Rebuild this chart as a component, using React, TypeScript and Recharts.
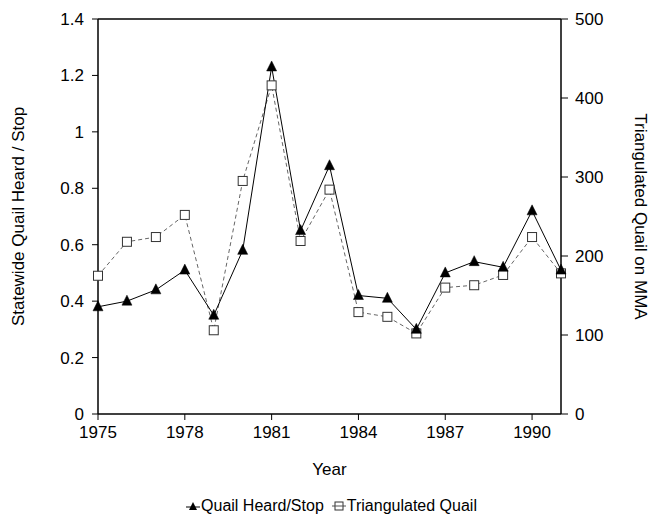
import React from "react";
import { LineChart, Line, XAxis, YAxis, Legend, ReferenceLine, Label } from "recharts";

const years = [1975, 1976, 1977, 1978, 1979, 1980, 1981, 1982, 1983, 1984, 1985, 1986, 1987, 1988, 1989, 1990, 1991];
const heardPerStop = [0.38, 0.4, 0.44, 0.51, 0.35, 0.58, 1.23, 0.65, 0.88, 0.42, 0.41, 0.3, 0.5, 0.54, 0.52, 0.72, 0.51];
const triangulated = [175, 218, 224, 252, 106, 295, 416, 219, 284, 129, 123, 102, 160, 163, 176, 224, 178];

const xTicks = [1975, 1978, 1981, 1984, 1987, 1990];
const leftTicks = [0, 0.2, 0.4, 0.6, 0.8, 1, 1.2, 1.4];
const rightTicks = [0, 100, 200, 300, 400, 500];

const seriesNames = { heard: "Quail Heard/Stop", tri: "Triangulated Quail" };
const axisTitles = { x: "Year", left: "Statewide Quail Heard / Stop", right: "Triangulated Quail on MMA" };

const data = years.map((y, i) => ({ year: y, heard: heardPerStop[i], tri: triangulated[i] }));

const FONT = "'Liberation Sans', Arial, sans-serif";
const tickStyle = { fontSize: 17, fill: "#000", fontFamily: FONT };

const TriangleDot = (props: any) => {
  const { cx, cy } = props;
  if (cx == null || cy == null) return null;
  return <polygon points={`${cx},${cy - 6} ${cx - 5},${cy + 4} ${cx + 5},${cy + 4}`} fill="#000" stroke="#000" strokeWidth={0.5} />;
};

const SquareDot = (props: any) => {
  const { cx, cy } = props;
  if (cx == null || cy == null) return null;
  return <rect x={cx - 4.5} y={cy - 4.5} width={9} height={9} fill="#fff" stroke="#333" strokeWidth={1} />;
};

const LegendContent = () => (
  <div style={{ display: "flex", justifyContent: "center", alignItems: "center", fontFamily: FONT, fontSize: 16, color: "#000" }}>
    <svg width={14} height={12} style={{ marginRight: 1 }}>
      <line x1={0} y1={7} x2={14} y2={7} stroke="#000" strokeWidth={1} />
      <polygon points="7,2 3,10 11,10" fill="#000" />
    </svg>
    <span style={{ marginRight: 8 }}>{seriesNames.heard}</span>
    <svg width={14} height={12} style={{ marginRight: 1 }}>
      <line x1={0} y1={6} x2={14} y2={6} stroke="#555" strokeWidth={1} />
      <rect x={3} y={2} width={8} height={8} fill="#fff" stroke="#333" strokeWidth={1} />
      <line x1={3} y1={6} x2={11} y2={6} stroke="#555" strokeWidth={1} />
    </svg>
    <span>{seriesNames.tri}</span>
  </div>
);

const LeftTitle = (props: any) => {
  const vb = props.viewBox || {};
  const cx = 18;
  const cy = vb.y + vb.height / 2;
  return (
    <text x={cx} y={cy} transform={`rotate(-90 ${cx} ${cy})`} textAnchor="middle" dominantBaseline="central" fontSize={17} fontFamily={FONT} fill="#000">
      {axisTitles.left}
    </text>
  );
};

const RightTitle = (props: any) => {
  const vb = props.viewBox || {};
  const cx = 640;
  const cy = vb.y + vb.height / 2;
  return (
    <text x={cx} y={cy} transform={`rotate(90 ${cx} ${cy})`} textAnchor="middle" dominantBaseline="central" fontSize={17} fontFamily={FONT} fill="#000">
      {axisTitles.right}
    </text>
  );
};

const XTitle = (props: any) => {
  const vb = props.viewBox || {};
  const cx = vb.x + vb.width / 2;
  const cy = vb.y + 55;
  return (
    <text x={cx} y={cy} textAnchor="middle" dominantBaseline="central" fontSize={17} fontFamily={FONT} fill="#000">
      {axisTitles.x}
    </text>
  );
};

export default function App() {
  return (
    <div style={{ position: "absolute", left: 0, top: 0, width: 663, height: 516, background: "#fff" }}>
      <LineChart width={663} height={516} data={data} margin={{ top: 19, right: 42, bottom: 0, left: 38 }}>
        <XAxis
          dataKey="year"
          type="number"
          domain={[1975, 1991]}
          ticks={xTicks}
          height={80}
          tickSize={6}
          tickMargin={6}
          tick={tickStyle}
          axisLine={{ stroke: "#000", strokeWidth: 1.5 }}
          tickLine={{ stroke: "#000" }}
        >
          <Label content={<XTitle />} />
        </XAxis>
        <YAxis
          yAxisId="left"
          domain={[0, 1.4]}
          ticks={leftTicks}
          width={60}
          tickSize={6}
          tickMargin={8}
          tick={tickStyle}
          axisLine={{ stroke: "#000", strokeWidth: 1.5 }}
          tickLine={{ stroke: "#000" }}
          interval={0}
        >
          <Label content={<LeftTitle />} />
        </YAxis>
        <YAxis
          yAxisId="right"
          orientation="right"
          domain={[0, 500]}
          ticks={rightTicks}
          width={60}
          tickSize={7}
          tickMargin={7}
          tick={tickStyle}
          axisLine={{ stroke: "#000", strokeWidth: 1.5 }}
          tickLine={{ stroke: "#000" }}
          interval={0}
        >
          <Label content={<RightTitle />} />
        </YAxis>
        <ReferenceLine yAxisId="left" y={1.4} stroke="#000" strokeWidth={1.5} />
        <Legend
          verticalAlign="bottom"
          content={<LegendContent />}
          wrapperStyle={{ top: 497, bottom: "auto", left: 0, width: 663, height: 22 }}
        />
        <Line
          yAxisId="right"
          dataKey="tri"
          name={seriesNames.tri}
          stroke="#666"
          strokeWidth={1}
          strokeDasharray="4 3"
          dot={<SquareDot />}
          activeDot={false}
          isAnimationActive={false}
        />
        <Line
          yAxisId="left"
          dataKey="heard"
          name={seriesNames.heard}
          stroke="#000"
          strokeWidth={1}
          dot={<TriangleDot />}
          activeDot={false}
          isAnimationActive={false}
        />
      </LineChart>
    </div>
  );
}
